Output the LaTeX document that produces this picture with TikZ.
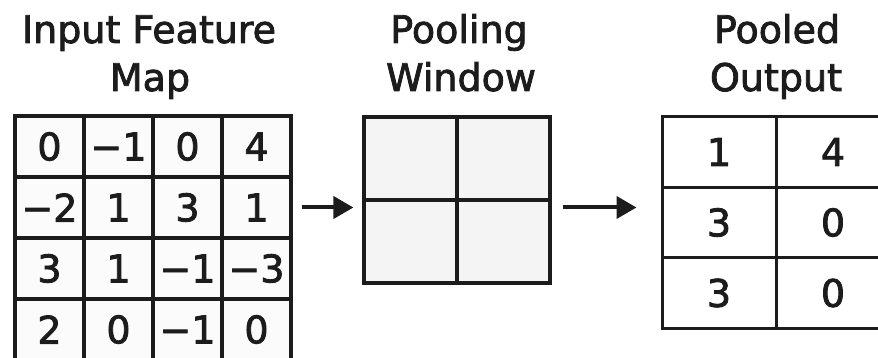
\documentclass[tikz,border=0pt]{standalone}
\usepackage{fontspec}
\setmainfont{DejaVu Sans}[FakeBold=2.2]
\usetikzlibrary{arrows.meta}
\definecolor{InkClr}{HTML}{1C1C1C}
\definecolor{CellClr}{HTML}{FBFBFB}
\definecolor{WinClr}{HTML}{F4F4F4}

\tikzset{
  incell/.style={draw=InkClr,fill=CellClr,line width=3.4pt,inner sep=0pt,text=InkClr,
    minimum width=69pt,minimum height=61pt},
  wincell/.style={incell,fill=WinClr,line width=3.2pt,minimum width=93pt,minimum height=83pt},
  outcell/.style={incell,fill=white,line width=3pt,minimum width=114pt,minimum height=70.5pt},
  heading/.style={anchor=base,inner sep=0pt,text=InkClr},
  flow/.style={draw=InkClr,line width=4pt,-{Triangle[length=20pt,width=22pt]}}
}

\begin{document}
\begin{tikzpicture}[x=1pt,y=-1pt,font=\fontsize{38}{46}\selectfont]

\useasboundingbox (0,0) rectangle (878,358);

\node[heading] (head-in-a) at (149,43) {Input Feature};
\node[heading] (head-in-b) at (150,91) {Map};
\node[heading] (head-win-a) at (459,43) {Pooling};
\node[heading] (head-win-b) at (461,91) {Window};
\node[heading] (head-out-a) at (777,43) {Pooled};
\node[heading] (head-out-b) at (776,91) {Output};

% feature map
\foreach \vals [count=\r from 0] in {{0,−1,0,4},{−2,1,3,1},{3,1,−1,−3},{2,0,−1,0}}
  \foreach \v [count=\c from 0] in \vals
    \node[incell] (in-\r-\c) at (49.5+69*\c,146.5+61*\r) {\v};

% 2x2 window
\foreach \r in {0,1}
  \foreach \c in {0,1}
    \node[wincell] (win-\r-\c) at (410.5+93*\c,158.5+83*\r) {};

% pooled values
\foreach \vals [count=\r from 0] in {{1,4},{3,0},{3,0}}
  \foreach \v [count=\c from 0] in \vals
    \node[outcell] (out-\r-\c) at (719+114*\c,152+70.5*\r) {\v};

\draw[flow,shorten <=9pt,shorten >=9pt] (in-1-3.east) -- (in-1-3.east -| win-0-0.west);
\draw[flow,shorten <=11pt,shorten >=24pt] (in-1-3.east -| win-0-1.east) -- (in-1-3.east -| out-0-0.west);

\end{tikzpicture}
\end{document}
